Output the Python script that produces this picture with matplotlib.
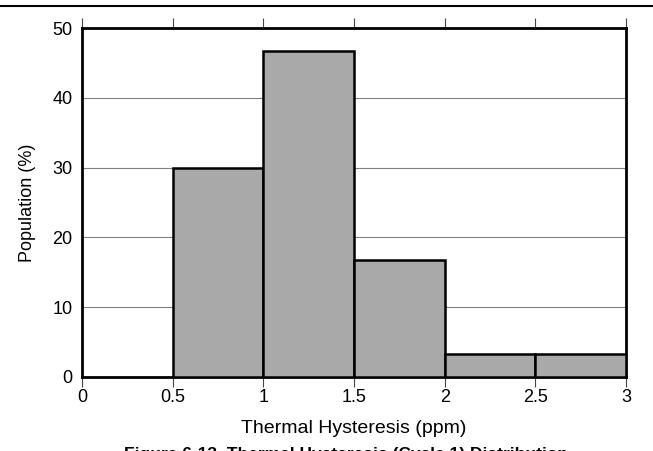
import matplotlib
matplotlib.use('Agg')
import matplotlib.pyplot as plt
from matplotlib.lines import Line2D

# Histogram data (bin edges in ppm, population in %)
bin_left = [0.5, 1.0, 1.5, 2.0, 2.5]
bin_width = 0.5
population = [30.0, 46.7, 16.7, 3.3, 3.3]
x_ticks = [0, 0.5, 1, 1.5, 2, 2.5, 3]
x_tick_labels = ['0', '0.5', '1', '1.5', '2', '2.5', '3']
y_ticks = [0, 10, 20, 30, 40, 50]

plt.rcParams['font.family'] = ['Liberation Sans', 'DejaVu Sans']

fig = plt.figure(figsize=(6.53, 4.51), dpi=100)
ax = fig.add_axes([0.1256, 0.1641, 0.8331, 0.7738])

ax.bar(bin_left, population, width=bin_width, align='edge',
       color='#a9a9a9', edgecolor='black', linewidth=1.8, zorder=3)

ax.set_xlim(0, 3)
ax.set_ylim(0, 50)
ax.set_xticks(x_ticks)
ax.set_xticklabels(x_tick_labels)
ax.set_yticks(y_ticks)
ax.yaxis.grid(True, color='#808080', linewidth=0.8, zorder=0)
ax.set_axisbelow(True)

ax.tick_params(axis='x', direction='out', top=True, bottom=True,
               length=7, width=0.8, color='#444444', labelsize=13, pad=2)
ax.tick_params(axis='y', length=0, labelsize=13, pad=7)

for s in ax.spines.values():
    s.set_linewidth(2.0)

ax.set_xlabel('Thermal Hysteresis (ppm)', fontsize=14)
ax.set_ylabel('Population (%)', fontsize=13)
ax.xaxis.set_label_coords(0.5, -0.122)
ax.yaxis.set_label_coords(-0.085, 0.5)

# horizontal rule across the top of the page
fig.add_artist(Line2D([0, 1], [0.9867, 0.9867], color='black', linewidth=1.5))

# figure caption (cut off at the bottom edge, as in the source page)
fig.text(0.53, -0.008, 'Figure 6-13. Thermal Hysteresis (Cycle 1) Distribution',
         ha='center', va='center', fontsize=12.5, fontweight='bold')

plt.savefig('out.png', dpi=100)
plt.close()
